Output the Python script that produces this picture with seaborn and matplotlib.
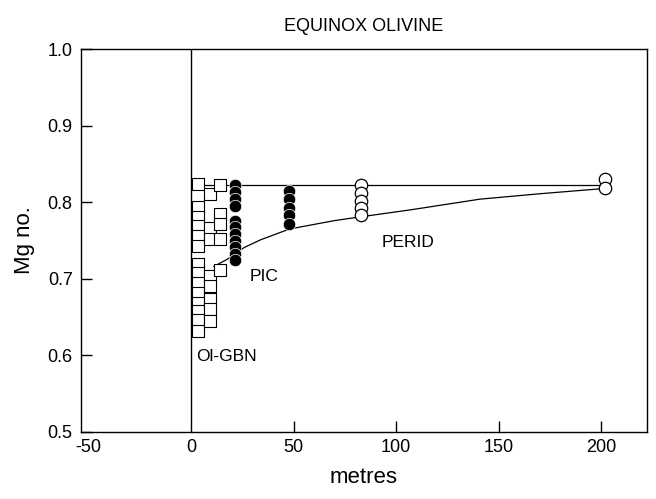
import matplotlib
matplotlib.use("Agg")
import matplotlib.pyplot as plt
import seaborn as sns

# ---- data ----
gbn_x = [3.5]*14 + [9]*8 + [14]*5
gbn_y = [0.824, 0.794, 0.781, 0.769, 0.756, 0.743, 0.719, 0.707, 0.694, 0.681, 0.669, 0.658, 0.646, 0.632,
         0.811, 0.766, 0.752, 0.704, 0.690, 0.673, 0.660, 0.645,
         0.822, 0.784, 0.771, 0.752, 0.711]

pic_x = [21.5]*11 + [48]*5
pic_y = [0.822, 0.813, 0.804, 0.795, 0.776, 0.767, 0.758, 0.750, 0.741, 0.732, 0.724,
         0.815, 0.804, 0.793, 0.783, 0.772]

perid_x = [83]*5 + [202]*2
perid_y = [0.822, 0.812, 0.802, 0.793, 0.783, 0.830, 0.819]

upper_x = [5, 202]
upper_y = [0.822, 0.822]

lower_x = [11, 18, 26, 34, 41, 48, 56, 70, 83, 107, 141, 170, 202]
lower_y = [0.716, 0.726, 0.741, 0.751, 0.758, 0.765, 0.769, 0.776, 0.781, 0.790, 0.804, 0.811, 0.818]

x_ticks = [-50, 0, 50, 100, 150, 200]
y_ticks = [0.5, 0.6, 0.7, 0.8, 0.9, 1.0]
y_ticklabels = ["0.5", "0.6", "0.7", "0.8", "0.9", "1.0"]

labels = [("PIC", 28.5, 0.703), ("Ol-GBN", 2.5, 0.599), ("PERID", 93, 0.748)]

# ---- plotting ----
sns.set_style("ticks")
plt.rcParams["font.family"] = ["Liberation Sans", "DejaVu Sans"]
plt.rcParams["text.color"] = "black"
plt.rcParams["axes.labelcolor"] = "black"

fig = plt.figure(figsize=(6.56, 4.99), dpi=100)
ax = fig.add_axes([81/656, 1 - 432/499, (647 - 81)/656, (432 - 49)/499])

ax.axvline(0, color="black", lw=1.0, zorder=1)
sns.lineplot(x=upper_x, y=upper_y, ax=ax, color="black", lw=0.9, sort=False, zorder=2)
sns.lineplot(x=lower_x, y=lower_y, ax=ax, color="black", lw=0.9, sort=False, zorder=2)

sns.scatterplot(x=gbn_x, y=gbn_y, ax=ax, marker="s", s=64, facecolor="white",
                edgecolor="black", linewidth=0.8, zorder=3)
sns.scatterplot(x=pic_x, y=pic_y, ax=ax, marker="o", s=80, color="black",
                edgecolor="white", linewidth=0.5, zorder=3)
sns.scatterplot(x=perid_x, y=perid_y, ax=ax, marker="o", s=80, facecolor="white",
                edgecolor="black", linewidth=0.9, zorder=3)

for txt, tx, ty in labels:
    ax.text(tx, ty, txt, fontsize=12.5, ha="left", va="center", color="black")

ax.set_xlim(-53.7, 222.4)
ax.set_ylim(0.5, 1.0)
ax.set_xticks(x_ticks)
ax.set_xticklabels([str(t) for t in x_ticks])
ax.set_yticks(y_ticks)
ax.set_yticklabels(y_ticklabels)
ax.tick_params(direction="in", length=8, width=1, labelsize=13, colors="black", pad=6)
ax.tick_params(axis="x", pad=5)

# no visible tick marks at -50 and 0 (0 coincides with the vertical line)
xt = ax.xaxis.get_major_ticks()
for i in (0, 1):
    xt[i].tick1line.set_visible(False)

for sp in ax.spines.values():
    sp.set_visible(True)
    sp.set_color("black")
    sp.set_linewidth(1.0)

ax.set_xlabel("metres", fontsize=16, labelpad=8, color="black")
ax.set_ylabel("Mg no.", fontsize=16, labelpad=9, color="black")
ax.set_title("EQUINOX OLIVINE", fontsize=13, pad=13, color="black")

fig.savefig("out.png", dpi=100)
